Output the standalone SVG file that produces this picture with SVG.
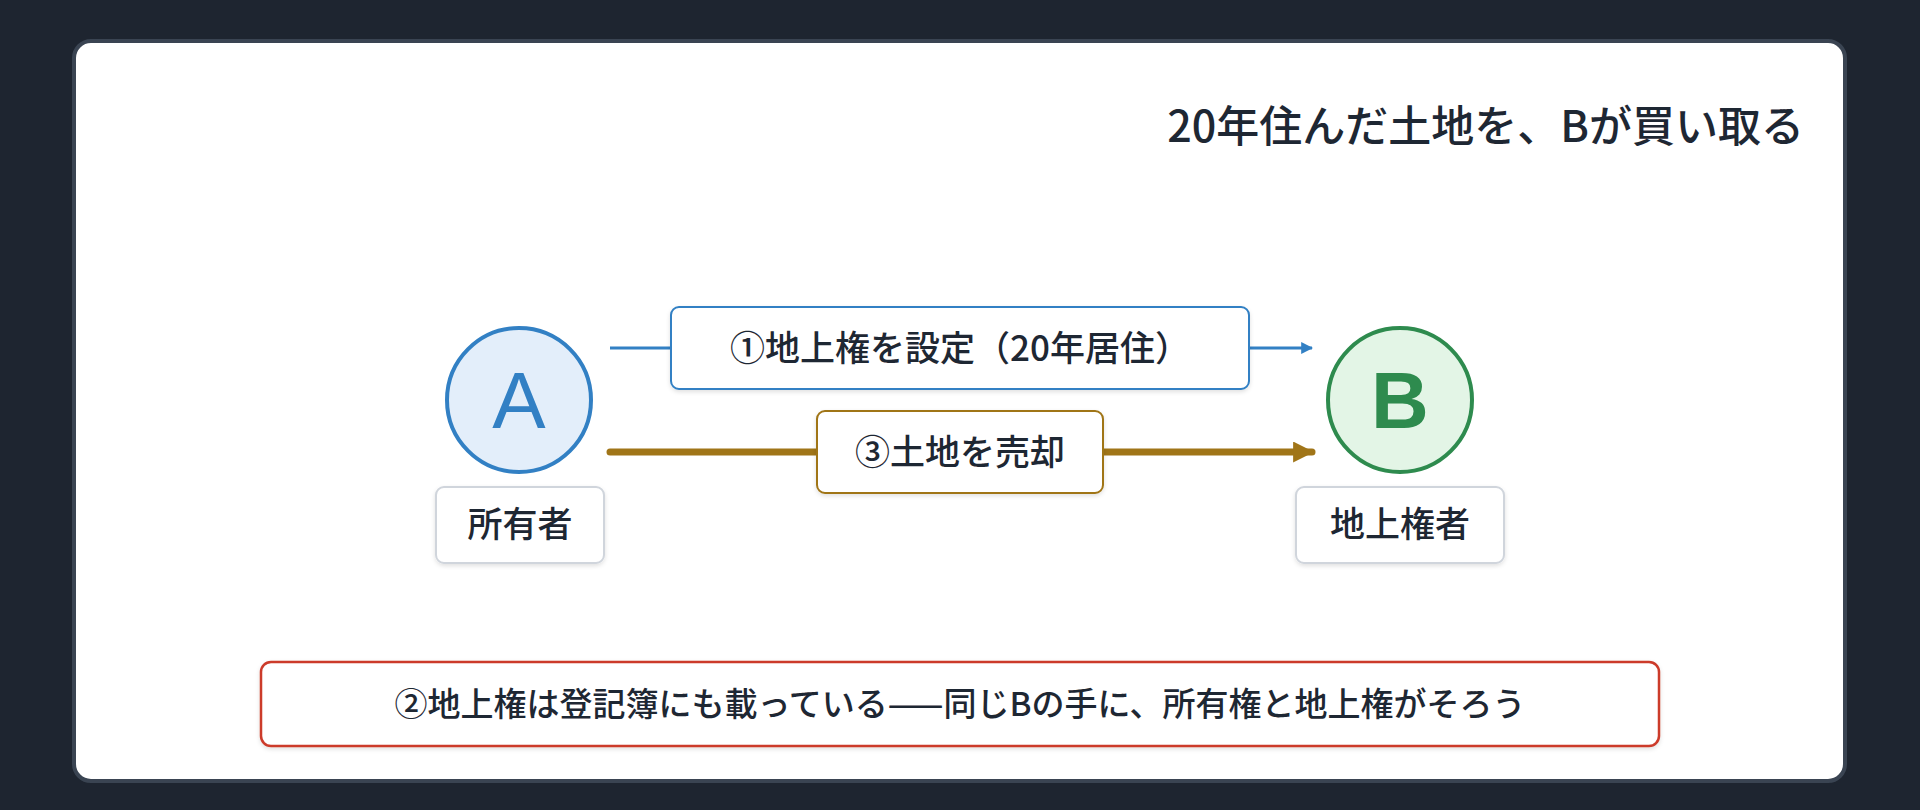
<svg xmlns="http://www.w3.org/2000/svg" width="1920" height="810" viewBox="0 0 1920 810">
<defs>
<filter id="sh" x="-10%" y="-20%" width="120%" height="150%"><feDropShadow dx="0" dy="2" stdDeviation="2" flood-color="#000" flood-opacity="0.12"/></filter>
<marker id="mb" viewBox="0 0 10 10" refX="9" refY="5" markerWidth="4" markerHeight="4" orient="auto"><path d="M0,0 L10,5 L0,10 z" fill="#3280c4"/></marker>
<marker id="mg" viewBox="0 0 10 10" refX="9" refY="5" markerWidth="3" markerHeight="3" orient="auto"><path d="M0,0 L10,5 L0,10 z" fill="#a07518"/></marker>
</defs>
<style>
text{font-family:"Noto Sans CJK JP","Liberation Sans",sans-serif;fill:#1e2733;text-anchor:middle}
.lbl{font-size:35px;font-weight:500}
.box{fill:#fff;filter:url(#sh)}
</style>
<rect width="1920" height="810" fill="#1e2530"/>
<rect x="74" y="41" width="1771" height="740" rx="17" fill="#fff" stroke="#3a4452" stroke-width="4"/>
<text x="1804" y="142" style="font-size:43px;font-weight:500;text-anchor:end">20年住んだ土地を、Bが買い取る</text>
<g id="connectors">
<line x1="610" y1="348" x2="1312" y2="348" stroke="#3280c4" stroke-width="3" marker-end="url(#mb)"/>
<line x1="610" y1="452" x2="1312" y2="452" stroke="#a07518" stroke-width="7" stroke-linecap="round" marker-end="url(#mg)"/>
</g>
<g id="label1"><rect class="box" x="671" y="307" width="578" height="82" rx="8" stroke="#3280c4" stroke-width="2"/><text class="lbl" x="960" y="361">①地上権を設定（20年居住）</text></g>
<g id="label3"><rect class="box" x="817" y="411" width="286" height="82" rx="8" stroke="#a07518" stroke-width="2"/><text class="lbl" x="960" y="465">③土地を売却</text></g>
<g id="nodeA"><circle cx="519" cy="400" r="72" fill="#e3eefa" stroke="#3280c4" stroke-width="4"/><text x="519" y="428" style="font-size:80px;fill:#3280c4;font-family:'Liberation Sans',sans-serif">A</text>
<rect class="box" x="436" y="487" width="168" height="76" rx="8" stroke="#d0d5dc" stroke-width="2"/><text class="lbl" x="520" y="537">所有者</text></g>
<g id="nodeB"><circle cx="1400" cy="400" r="72" fill="#e3f5e6" stroke="#2e8b4e" stroke-width="4"/><text x="1400" y="428" style="font-size:80px;fill:#2e8b4e;font-weight:bold;font-family:'Liberation Sans',sans-serif">B</text>
<rect class="box" x="1296" y="487" width="208" height="76" rx="8" stroke="#d0d5dc" stroke-width="2"/><text class="lbl" x="1400" y="537">地上権者</text></g>
<g id="note"><rect class="box" x="261" y="662" width="1398" height="84" rx="10" stroke="#cc3a2a" stroke-width="2.5"/><text class="lbl" x="960" y="716" style="font-size:33px">②地上権は登記簿にも載っている——同じBの手に、所有権と地上権がそろう</text></g>
</svg>
